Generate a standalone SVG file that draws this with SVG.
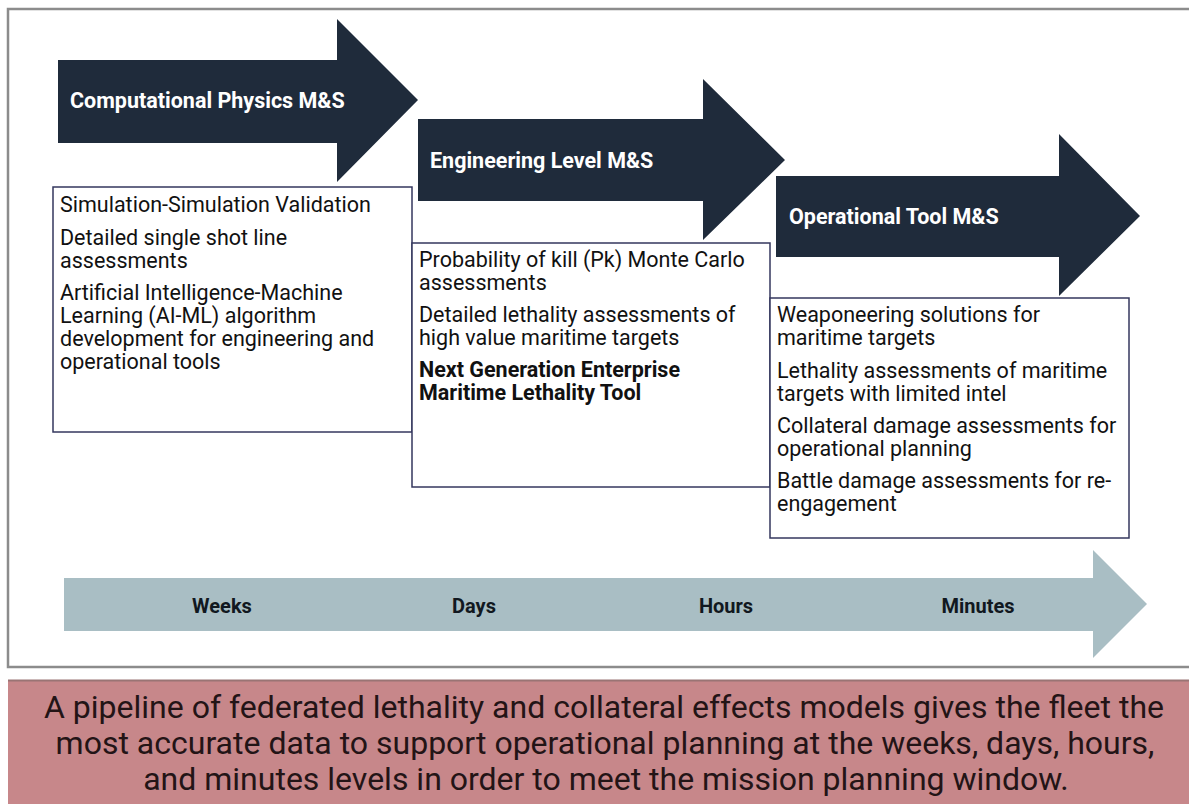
<svg xmlns="http://www.w3.org/2000/svg" width="1189" height="804" viewBox="0 0 1189 804">
  <style>
    .frame { fill: #ffffff; stroke: #8c8c8c; stroke-width: 2.5; }
    .darr { fill: #1f2b3b; }
    .darr-t { font-family: Roboto, "Liberation Sans", sans-serif; font-weight: bold; font-size: 21.5px; fill: #ffffff; }
    .box { fill: #ffffff; stroke: #34375e; stroke-width: 1.5; }
    .bt { font-family: Roboto, "Liberation Sans", sans-serif; font-size: 21.5px; fill: #111111; }
    .bt-b { font-family: Roboto, "Liberation Sans", sans-serif; font-size: 21.5px; font-weight: bold; fill: #111111; }
    .tl { fill: #a9bec4; }
    .tl-t { font-family: Roboto, "Liberation Sans", sans-serif; font-weight: bold; font-size: 20px; fill: #111820; text-anchor: middle; }
    .banner { fill: #c7878a; }
    .banner-t { font-family: Roboto, "Liberation Sans", sans-serif; font-size: 32px; fill: #231416; text-anchor: middle; }
  </style>
  <rect x="0" y="0" width="1189" height="804" fill="#ffffff"/>
  <rect class="frame" x="8" y="9" width="1195" height="658"/>

  <g id="boxes">
    <g id="box-computational">
      <rect class="box" x="53" y="187" width="359" height="245"/>
      <text class="bt" x="60" y="212">Simulation-Simulation Validation</text>
      <text class="bt" x="60" y="245">Detailed single shot line</text>
      <text class="bt" x="60" y="268">assessments</text>
      <text class="bt" x="60" y="300">Artificial Intelligence-Machine</text>
      <text class="bt" x="60" y="323">Learning (AI-ML) algorithm</text>
      <text class="bt" x="60" y="346">development for engineering and</text>
      <text class="bt" x="60" y="369">operational tools</text>
    </g>
    <g id="box-engineering">
      <rect class="box" x="412" y="243" width="358" height="244"/>
      <text class="bt" x="419" y="267">Probability of kill (Pk) Monte Carlo</text>
      <text class="bt" x="419" y="290">assessments</text>
      <text class="bt" x="419" y="322">Detailed lethality assessments of</text>
      <text class="bt" x="419" y="345">high value maritime targets</text>
      <text class="bt-b" x="419" y="377">Next Generation Enterprise</text>
      <text class="bt-b" x="419" y="400">Maritime Lethality Tool</text>
    </g>
    <g id="box-operational">
      <rect class="box" x="770" y="298" width="359" height="240"/>
      <text class="bt" x="777" y="322">Weaponeering solutions for</text>
      <text class="bt" x="777" y="345">maritime targets</text>
      <text class="bt" x="777" y="378">Lethality assessments of maritime</text>
      <text class="bt" x="777" y="401">targets with limited intel</text>
      <text class="bt" x="777" y="433">Collateral damage assessments for</text>
      <text class="bt" x="777" y="456">operational planning</text>
      <text class="bt" x="777" y="488">Battle damage assessments for re-</text>
      <text class="bt" x="777" y="511">engagement</text>
    </g>
  </g>

  <g id="arrows">
    <g id="arrow-computational">
      <polygon class="darr" points="58,60 337,60 337,19 418,100 337,182 337,143 58,143"/>
      <text class="darr-t" x="70" y="108">Computational Physics M&amp;S</text>
    </g>
    <g id="arrow-engineering">
      <polygon class="darr" points="418,119 703,119 703,79 785,160 703,240 703,201 418,201"/>
      <text class="darr-t" x="430" y="168">Engineering Level M&amp;S</text>
    </g>
    <g id="arrow-operational">
      <polygon class="darr" points="776,176 1059,176 1059,134 1140,216 1059,296 1059,257 776,257"/>
      <text class="darr-t" x="789" y="224">Operational Tool M&amp;S</text>
    </g>
  </g>

  <g id="timeline">
    <polygon class="tl" points="64,578 1093,578 1093,550 1147,604 1093,658 1093,631 64,631"/>
    <text class="tl-t" x="222" y="613">Weeks</text>
    <text class="tl-t" x="474" y="613">Days</text>
    <text class="tl-t" x="726" y="613">Hours</text>
    <text class="tl-t" x="978" y="613">Minutes</text>
  </g>

  <g id="banner">
    <rect class="banner" x="8" y="680" width="1181" height="124"/>
    <line x1="8" y1="680.5" x2="1189" y2="680.5" stroke="#9a7474" stroke-width="2"/>
    <text class="banner-t" x="604" y="718">A pipeline of federated lethality and collateral effects models gives the fleet the</text>
    <text class="banner-t" x="605" y="754">most accurate data to support operational planning at the weeks, days, hours,</text>
    <text class="banner-t" x="606" y="790">and minutes levels in order to meet the mission planning window.</text>
  </g>
</svg>
